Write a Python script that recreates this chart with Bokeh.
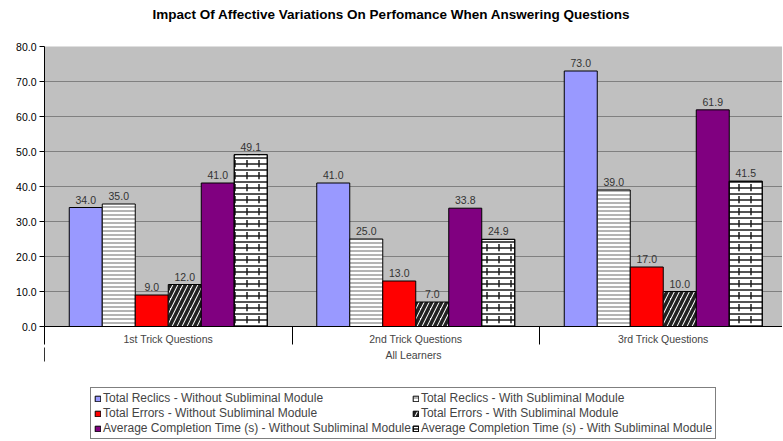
from bokeh.plotting import figure
from bokeh.layouts import column
from bokeh.models import (Range1d, LinearAxis, FixedTicker, NumeralTickFormatter,
                          Legend, LegendItem, ColumnDataSource, Div)
from bokeh.core.properties import value
from bokeh.embed import file_html
from bokeh.resources import INLINE

# ---- data ----
title = "Impact Of Affective Variations On Perfomance When Answering Questions"
categories = ["1st Trick Questions", "2nd Trick Questions", "3rd Trick Questions"]
group_label = "All Learners"
series_names = [
    "Total Reclics - Without Subliminal Module",
    "Total Reclics - With Subliminal Module",
    "Total Errors - Without Subliminal Module",
    "Total Errors - With Subliminal Module",
    "Average Completion Time (s) - Without Subliminal Module",
    "Average Completion Time (s) - With Subliminal Module",
]
reclics_without = [34.0, 41.0, 73.0]
reclics_with = [35.0, 25.0, 39.0]
errors_without = [9.0, 13.0, 17.0]
errors_with = [12.0, 7.0, 10.0]
time_without = [41.0, 33.8, 61.9]
time_with = [49.1, 24.9, 41.5]
series_values = [reclics_without, reclics_with, errors_without, errors_with,
                 time_without, time_with]
y_ticks = [0, 10, 20, 30, 40, 50, 60, 70, 80]

FONT = "Liberation Sans"

def make_styles():
    # each series: list of layers (the brick look uses two hatch layers)
    return [
        [dict(fill_color="#9999FF")],
        [dict(fill_color="white", hatch_pattern="horizontal_line", hatch_color="#B4B4B4",
              hatch_scale=4, hatch_weight=2)],
        [dict(fill_color="#FF0000")],
        [dict(fill_color="white", hatch_pattern="right_diagonal_line",
              hatch_color="#222222", hatch_scale=10, hatch_weight=3.5)],
        [dict(fill_color="#800080")],
        [dict(fill_color="white", hatch_pattern="horizontal_line", hatch_color="#1a1a1a",
              hatch_scale=6, hatch_weight=1.5),
         dict(fill_alpha=0, hatch_pattern="vertical_dash", hatch_color="#1a1a1a",
              hatch_scale=12, hatch_weight=1.5)],
    ]

head = Div(text=title, width=782, height=28, margin=0,
           styles={"text-align": "center", "font-family": FONT,
                   "font-weight": "bold", "font-size": "13.5px",
                   "padding-top": "5px", "color": "black"})

cat_px = 247.5
frame_w = 738
frame_h = 280
p = figure(frame_width=frame_w, frame_height=frame_h, output_backend="svg",
           toolbar_location=None,
           x_range=Range1d(0, frame_w / cat_px), y_range=Range1d(0, 80),
           min_border_left=44, min_border_right=0, min_border_top=18,
           min_border_bottom=47, x_axis_type=None)

p.background_fill_color = "#C0C0C0"
p.border_fill_color = "white"
p.outline_line_color = None
p.xgrid.visible = False
p.ygrid.grid_line_color = "#808080"
p.ygrid.grid_line_width = 1
p.yaxis.ticker = FixedTicker(ticks=y_ticks)
p.yaxis.formatter = NumeralTickFormatter(format="0.0")
p.yaxis.major_label_text_font = FONT
p.yaxis.major_label_text_font_size = "10.5px"
p.yaxis.major_label_text_color = "black"
p.yaxis.major_tick_out = 5
p.yaxis.major_tick_in = 0
p.yaxis.minor_tick_out = 0
p.yaxis.minor_tick_in = 0
p.yaxis.axis_line_color = "black"
p.yaxis.major_tick_line_color = "black"
p.yaxis.major_label_standoff = 3

# category axis (labels + separators)
xaxis = LinearAxis(
    ticker=FixedTicker(ticks=[i + 0.5 for i in range(len(categories))],
                       minor_ticks=list(range(len(categories) + 1))),
    major_label_overrides={i + 0.5: c for i, c in enumerate(categories)},
    major_tick_out=0, major_tick_in=0, minor_tick_out=18, minor_tick_in=0,
    minor_tick_line_color="black", axis_line_color="black",
    major_label_text_font=FONT, major_label_text_font_size="10.5px",
    major_label_standoff=-12,
)
p.add_layout(xaxis, "below")

# group level axis ("All Learners") with the long left edge
gaxis = LinearAxis(
    ticker=FixedTicker(ticks=[], minor_ticks=[0]),
    major_tick_out=0, major_tick_in=0, minor_tick_out=14, minor_tick_in=0,
    minor_tick_line_color="#333333", axis_line_color=None,
    major_label_text_font_size="0px",
    axis_label=group_label, axis_label_text_font=FONT,
    axis_label_text_font_size="10.5px", axis_label_text_font_style="normal",
    axis_label_standoff=-13,
)
p.add_layout(gaxis, "below")

n = len(series_values)
pad = 0.1
bw = (1 - 2 * pad) / n
sources = []
for j, (name, vals, layers) in enumerate(zip(series_names, series_values, make_styles())):
    xs = [i + pad + bw * (j + 0.5) for i in range(len(vals))]
    src = ColumnDataSource(dict(x=xs, top=vals, lab=[f"{v:.1f}" for v in vals]))
    sources.append(src)
    for k, st in enumerate(layers):
        p.vbar(x="x", top="top", width=bw, source=src,
               line_color="black" if k == 0 else None, line_width=1, **st)
    if len(layers) > 1:
        p.vbar(x="x", top="top", width=bw, source=src, fill_alpha=0,
               line_color="black", line_width=1)
    p.text(x="x", y="top", text="lab", source=src, text_align="center",
           text_baseline="bottom", y_offset=-4, text_font=value(FONT),
           text_font_size="10.5px", text_color="#333333")

# legend in its own strip below the chart (its bars lie outside the visible range)
p2 = figure(width=782, height=67, output_backend="svg", toolbar_location=None,
            min_border=0, x_axis_type=None, y_axis_type=None,
            x_range=Range1d(-20, -19), y_range=Range1d(0, 1))
p2.outline_line_color = None
p2.grid.visible = False
items = []
for name, layers, src in zip(series_names, make_styles(), sources):
    rs = [p2.vbar(x="x", top="top", width=bw, source=src,
                  line_color="black", line_width=1, **st) for st in layers]
    items.append(LegendItem(label=name, renderers=rs))
legend = Legend(items=items, orientation="horizontal", ncols=2,
                location=(46, 1), label_text_font=FONT,
                label_text_font_size="12px", glyph_width=7, glyph_height=7,
                label_height=12, label_standoff=2, spacing=1, padding=3,
                margin=0, border_line_color="black", border_line_width=1,
                background_fill_color="white", background_fill_alpha=1.0)
p2.add_layout(legend, "center")

layout = column(head, p, p2, spacing=0)
open("out.html", "w").write(file_html(layout, INLINE))
